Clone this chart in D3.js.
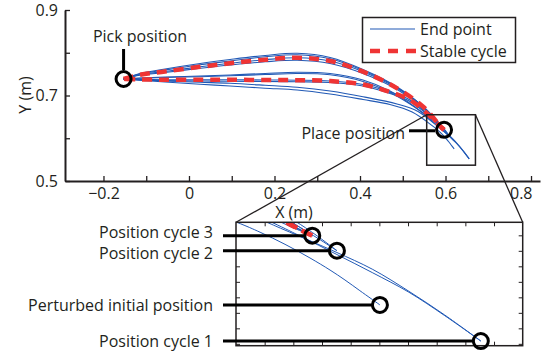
<!DOCTYPE html>
<html>
<head>
<meta charset="utf-8">
<script src="https://cdn.jsdelivr.net/npm/d3@7"></script>
<style>
  html, body { margin: 0; padding: 0; background: #fff; }
  svg { display: block; }
  text { font-family: "Open Sans", sans-serif; font-size: 16px; fill: #231f20; }
</style>
</head>
<body>
<svg id="chart" width="543" height="356"></svg>
<script>
// ---------------- data (metres) ----------------
const xTicks = [-0.2, -0.1, 0, 0.1, 0.2, 0.3, 0.4, 0.5, 0.6, 0.7, 0.8];
const xTickLabels = [-0.2, 0, 0.2, 0.4, 0.6, 0.8];
const yTicks = [0.5, 0.6, 0.7, 0.8, 0.9];
const yTickLabels = [0.5, 0.7, 0.9];
const insetXTicks = [0.58, 0.59, 0.60, 0.61, 0.62, 0.63, 0.64, 0.65, 0.66];
const insetYTicks = [0.55, 0.56, 0.57, 0.58, 0.59, 0.60, 0.61, 0.62];

const pickPosition = [-0.153, 0.7386];
const cycle3End = [0.5966, 0.6198];
const cycle2End = [0.6052, 0.6101];
const perturbedStart = [0.6202, 0.5751];
const cycle1End = [0.6554, 0.5518];

// stable cycle: outbound (upper) arc and return (lower) arc
const stableUpper = [[-0.153,0.7386],[-0.115,0.7484],[-0.056,0.7561],[0.026,0.7671],[0.096,0.7753],
  [0.178,0.7837],[0.253,0.7882],[0.330,0.7807],[0.407,0.7557],[0.487,0.7168],[0.5497,0.6719],
  [0.5881,0.6278],[0.5966,0.6198]];
const stableLower = [[0.5966,0.6198],[0.5881,0.6278],[0.5544,0.6602],[0.5170,0.6895],[0.4702,0.7082],
  [0.407,0.7257],[0.330,0.7339],[0.253,0.7358],[0.178,0.7363],[0.096,0.7367],[0.026,0.7367],
  [-0.056,0.7370],[-0.115,0.7377],[-0.153,0.7386]];

// end-point trajectories
const pathPerturbed = [[-0.153,0.7386],[-0.115,0.7356],[-0.056,0.7316],[0.026,0.7264],[0.096,0.7222],
  [0.178,0.7171],[0.253,0.7129],[0.330,0.7035],[0.407,0.6906],[0.470,0.6789],[0.522,0.6614],
  [0.5703,0.6284],[0.5784,0.6220],[0.5871,0.6142],[0.5958,0.6054],[0.6028,0.5976],[0.6080,0.5912],
  [0.6132,0.5843],[0.6202,0.5751]];
const pathCycle1Back = [[-0.153,0.7386],[-0.115,0.7367],[-0.056,0.7339],[0.026,0.7309],[0.096,0.7285],
  [0.178,0.7239],[0.253,0.7192],[0.330,0.7105],[0.407,0.6972],[0.4865,0.6801],[0.5357,0.6626],
  [0.5791,0.6297],[0.5864,0.6239],[0.5958,0.6165],[0.6052,0.6089],[0.6177,0.5980],[0.6303,0.5839],
  [0.6428,0.5686],[0.6554,0.5518]];
const pathCycle1Out = [[-0.153,0.7386],[-0.115,0.7409],[-0.056,0.7433],[0.026,0.7456],[0.096,0.7480],
  [0.178,0.7515],[0.253,0.7543],[0.330,0.7515],[0.407,0.7363],[0.4702,0.7105],[0.5287,0.6731],
  [0.5811,0.6296],[0.5923,0.6196],[0.6052,0.6076],[0.6177,0.5958],[0.6303,0.5833],[0.6428,0.5682],
  [0.6554,0.5518]];
const pathCycle2Out = [[-0.153,0.7386],[-0.115,0.7515],[-0.056,0.7620],[0.026,0.7749],[0.096,0.7842],
  [0.178,0.7936],[0.253,0.7987],[0.330,0.7889],[0.407,0.7608],[0.487,0.7199],[0.5497,0.6719],
  [0.5902,0.6296],[0.5975,0.6207],[0.6052,0.6101]];
const pathCycle2Back = [[-0.153,0.7386],[-0.115,0.7503],[-0.056,0.7596],[0.026,0.7718],[0.096,0.7807],
  [0.178,0.7905],[0.253,0.7952],[0.330,0.7858],[0.407,0.7585],[0.487,0.7187],[0.5497,0.6719],
  [0.5885,0.6296],[0.5923,0.6251],[0.5986,0.6180],[0.6052,0.6101]];
const pathCycle3Out = [[-0.153,0.7386],[-0.115,0.7472],[-0.056,0.7538],[0.026,0.7636],[0.096,0.7713],
  [0.178,0.7788],[0.253,0.7823],[0.330,0.7749],[0.407,0.7515],[0.487,0.7140],[0.5497,0.6696],
  [0.5888,0.6289],[0.5930,0.6244],[0.5966,0.6198]];
const pathCycle3Back = [[-0.153,0.7386],[-0.115,0.7402],[-0.056,0.7421],[0.026,0.7440],[0.096,0.7461],
  [0.178,0.7491],[0.253,0.7515],[0.330,0.7484],[0.407,0.7327],[0.4702,0.7070],[0.5310,0.6708],
  [0.5874,0.6286],[0.5923,0.6236],[0.5966,0.6198]];
const pathCycle4Back = [[-0.153,0.7386],[-0.115,0.7363],[-0.056,0.7349],[0.026,0.7339],[0.096,0.7335],
  [0.178,0.7327],[0.253,0.7320],[0.330,0.7304],[0.407,0.7222],[0.4702,0.7047],[0.5170,0.6860],
  [0.5544,0.6579],[0.5874,0.6270],[0.5966,0.6198]];

const endPointPaths = [pathPerturbed, pathCycle1Back, pathCycle1Out, pathCycle2Out, pathCycle2Back,
  pathCycle3Out, pathCycle3Back, pathCycle4Back, stableUpper, stableLower];

// region of the main plot that the inset magnifies
const zoomX = [0.556, 0.670];
const zoomY = [0.537, 0.655];
const insetXDomain = [0.57, 0.67];
const insetYDomain = [0.5488, 0.6284];

const insetMarkers = [
  { pos: cycle3End, label: "Position cycle 3", shift: -3 },
  { pos: cycle2End, label: "Position cycle 2", shift: 3 },
  { pos: perturbedStart, label: "Perturbed initial position", shift: 0 },
  { pos: cycle1End, label: "Position cycle 1", shift: 0 }
];

// ---------------- drawing ----------------
const BLUE = "#2159b5";
const RED = "#ef3434";
const INK = "#231f20";
const svg = d3.select("#chart");

const x = d3.scaleLinear().domain([-0.29, 0.821]).range([65, 540]);
const y = d3.scaleLinear().domain([0.5, 0.9]).range([181, 10]);

const fmt = d3.format("");
const near = (arr, v) => arr.some(a => Math.abs(a - v) < 1e-9);

// axes
const gx = svg.append("g").attr("transform", "translate(0,181)")
  .call(d3.axisBottom(x).tickValues(xTicks).tickSizeInner(-5).tickSizeOuter(0).tickPadding(7)
    .tickFormat(d => near(xTickLabels, d) ? fmt(d) : ""));
const gy = svg.append("g").attr("transform", "translate(65,0)")
  .call(d3.axisLeft(y).tickValues(yTicks).tickSizeInner(-5).tickSizeOuter(0).tickPadding(7)
    .tickFormat(d => near(yTickLabels, d) ? fmt(d) : ""));
[gx, gy].forEach(g => {
  g.select(".domain").attr("stroke", INK).attr("stroke-width", 2);
  g.selectAll(".tick line").attr("stroke", INK).attr("stroke-width", 1.3);
  g.selectAll(".tick text").attr("font-size", 16).attr("font-family", "Open Sans").attr("fill", INK);
});
gx.selectAll(".tick text").filter(d => Math.abs(d - 0.8) < 1e-9).attr("text-anchor", "end").attr("dx", 1);

svg.append("text").attr("x", 294).attr("y", 218).attr("text-anchor", "middle").text("X (m)");
svg.append("text").attr("transform", "translate(25,95) rotate(-90)")
  .attr("text-anchor", "middle").attr("dy", "0.35em").text("Y (m)");

// trajectories in the main plot
const line = d3.line().x(d => x(d[0])).y(d => y(d[1])).curve(d3.curveCatmullRom.alpha(0.5));
const mainLines = svg.append("g");
mainLines.selectAll("path.traj").data(endPointPaths).join("path")
  .attr("class", "traj").attr("d", line)
  .attr("fill", "none").attr("stroke", BLUE).attr("stroke-width", 1.1);
mainLines.selectAll("path.stable").data([stableUpper, stableLower]).join("path")
  .attr("class", "stable").attr("d", line)
  .attr("fill", "none").attr("stroke", RED).attr("stroke-width", 4.5)
  .attr("stroke-dasharray", "10,7");

// pick / place annotations
function marker(g, cx, cy) {
  g.append("circle").attr("cx", cx).attr("cy", cy).attr("r", 7.5)
    .attr("fill", "none").attr("stroke", "#000").attr("stroke-width", 3);
}
const ann = svg.append("g");
const px = x(pickPosition[0]), py = y(pickPosition[1]);
ann.append("line").attr("x1", px).attr("x2", px).attr("y1", 49).attr("y2", py - 9)
  .attr("stroke", "#000").attr("stroke-width", 3);
marker(ann, px, py);
ann.append("text").attr("x", 140).attr("y", 42).attr("text-anchor", "middle").text("Pick position");

const qx = x(cycle3End[0]), qy = y(cycle3End[1]);
ann.append("line").attr("x1", 409).attr("x2", qx - 9).attr("y1", qy + 1).attr("y2", qy + 1)
  .attr("stroke", "#000").attr("stroke-width", 3);
marker(ann, qx, qy);
ann.append("text").attr("x", 405).attr("y", 139).attr("text-anchor", "end").text("Place position");

// legend
const lg = svg.append("g");
lg.append("rect").attr("x", 362.5).attr("y", 17.5).attr("width", 153).attr("height", 45)
  .attr("fill", "#fff").attr("stroke", INK).attr("stroke-width", 1.5);
lg.append("line").attr("x1", 370).attr("x2", 415).attr("y1", 29).attr("y2", 29)
  .attr("stroke", BLUE).attr("stroke-width", 1.1);
lg.append("text").attr("x", 420).attr("y", 35).text("End point");
lg.append("line").attr("x1", 370).attr("x2", 416).attr("y1", 51).attr("y2", 51)
  .attr("stroke", RED).attr("stroke-width", 4.5).attr("stroke-dasharray", "10,8");
lg.append("text").attr("x", 420).attr("y", 57).text("Stable cycle");

// zoom box and connectors
const box = { x: 236, y: 222.3, w: 286.7, h: 123.4 };
svg.append("rect").attr("x", x(zoomX[0])).attr("y", y(zoomY[1]))
  .attr("width", x(zoomX[1]) - x(zoomX[0])).attr("height", y(zoomY[0]) - y(zoomY[1]))
  .attr("fill", "none").attr("stroke", INK).attr("stroke-width", 1.5);
svg.append("line").attr("x1", x(zoomX[0])).attr("y1", y(zoomY[1])).attr("x2", box.x).attr("y2", box.y)
  .attr("stroke", INK).attr("stroke-width", 1.3);
svg.append("line").attr("x1", x(zoomX[1])).attr("y1", y(zoomY[1])).attr("x2", box.x + box.w).attr("y2", box.y)
  .attr("stroke", INK).attr("stroke-width", 1.3);

// inset
const ix = d3.scaleLinear().domain(insetXDomain).range([box.x, box.x + box.w]);
const iy = d3.scaleLinear().domain(insetYDomain).range([box.y + box.h, box.y]);
const inset = svg.append("g");
inset.append("rect").attr("x", box.x).attr("y", box.y).attr("width", box.w).attr("height", box.h)
  .attr("fill", "#fff");
svg.append("clipPath").attr("id", "insetClip").append("rect")
  .attr("x", box.x).attr("y", box.y).attr("width", box.w).attr("height", box.h);

const iAxes = [
  [d3.axisTop(ix).tickValues(insetXTicks), `translate(0,${box.y})`],
  [d3.axisBottom(ix).tickValues(insetXTicks), `translate(0,${box.y + box.h})`],
  [d3.axisLeft(iy).tickValues(insetYTicks), `translate(${box.x},0)`],
  [d3.axisRight(iy).tickValues(insetYTicks), `translate(${box.x + box.w},0)`]
];
iAxes.forEach(([ax, tr]) => {
  const g = inset.append("g").attr("transform", tr)
    .call(ax.tickSizeInner(-4).tickSizeOuter(0).tickFormat(""));
  g.select(".domain").remove();
  g.selectAll(".tick line").attr("stroke", INK).attr("stroke-width", 1);
});

const iline = d3.line().x(d => ix(d[0])).y(d => iy(d[1])).curve(d3.curveCatmullRom.alpha(0.5));
const clipped = inset.append("g").attr("clip-path", "url(#insetClip)");
clipped.selectAll("path.traj").data(endPointPaths).join("path")
  .attr("class", "traj").attr("d", iline)
  .attr("fill", "none").attr("stroke", BLUE).attr("stroke-width", 1);
clipped.selectAll("path.stable").data([stableUpper, stableLower]).join("path")
  .attr("class", "stable").attr("d", iline)
  .attr("fill", "none").attr("stroke", RED).attr("stroke-width", 4.5)
  .attr("stroke-dasharray", "10,7")
  .each(function () {
    // start the dash pattern where the path enters the inset frame
    const L = this.getTotalLength();
    let s = 0;
    for (; s < L; s += 0.5) {
      const p = this.getPointAtLength(s);
      if (p.x >= box.x && p.x <= box.x + box.w && p.y >= box.y && p.y <= box.y + box.h) break;
    }
    d3.select(this).attr("stroke-dashoffset", -s);
  });

inset.append("rect").attr("x", box.x).attr("y", box.y).attr("width", box.w).attr("height", box.h)
  .attr("fill", "none").attr("stroke", INK).attr("stroke-width", 1.5);

insetMarkers.forEach(m => {
  const cx = ix(m.pos[0]), cy = iy(m.pos[1]);
  inset.append("line").attr("x1", 223).attr("x2", cx - 8).attr("y1", cy).attr("y2", cy)
    .attr("stroke", "#000").attr("stroke-width", 3);
  marker(inset, cx, cy);
  inset.append("text").attr("x", 213).attr("y", cy + m.shift).attr("dy", "0.35em")
    .attr("font-size", 15).attr("text-anchor", "end").text(m.label);
});
</script>
</body>
</html>
